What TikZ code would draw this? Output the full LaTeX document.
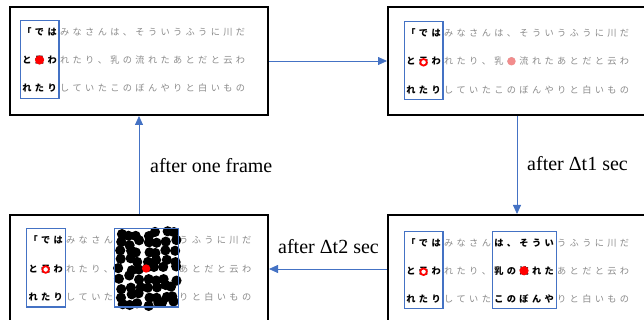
\documentclass[tikz,border=0pt]{standalone}
\usepackage{fontspec}
\setmainfont{Liberation Serif}
\newfontfamily\jp{Noto Sans CJK JP}
\usetikzlibrary{arrows.meta}
\definecolor{ablue}{HTML}{4472C4}
\definecolor{jgray}{HTML}{8A8A8A}
\definecolor{pinkdot}{HTML}{F28C8C}
\tikzset{
 panel/.style={draw=black, line width=2pt, minimum width=258pt, minimum height=108pt, inner sep=0pt},
 jb/.style={font=\jp\bfseries\fontsize{9.2}{9.2}\selectfont, text=black, inner sep=0pt, text height=8.1pt, text depth=1.1pt},
 jg/.style={font=\jp\fontsize{9.2}{9.2}\selectfont, text=jgray, inner sep=0pt, text height=8.1pt, text depth=1.1pt},
 selbox/.style={draw=ablue, line width=1.3pt},
 flow/.style={draw=ablue, line width=0.8pt, -{Triangle[length=9pt,width=8pt]}},
 lbl/.style={font=\fontsize{20}{20}\selectfont, inner sep=0pt, anchor=base west},
 hit/.style={fill=red, draw=none},
 faint/.style={fill=pinkdot, draw=none},
 ring/.style={draw=red, fill=white, line width=1.8pt},
 ink/.style={fill=black, draw=none},
}
\newcommand\jrows{{「,で,は,み,な,さ,ん,は,、,そ,う,い,う,ふ,う,に,川,だ},{と,云,わ,れ,た,り,、,乳,の,流,れ,た,あ,と,だ,と,云,わ},{れ,た,り,し,て,い,た,こ,の,ぼ,ん,や,り,と,白,い,も,の}}
% #1 prefix, #2 x of col 1, #3 y of row 1, #4 row step, #5 mode of cols 8-12 (0 gray, 1 bold, 2 hidden)
\newcommand\jtext[5]{%
 \foreach \rl [count=\rowi] in \jrows {
  \foreach \ch [count=\coli] in \rl {
   \pgfmathsetmacro\xx{#2+(\coli-1)*12.56}
   \pgfmathsetmacro\yy{#3+(\rowi-1)*#4}
   \pgfmathtruncatemacro\kd{(\coli<4) ? 1 : ((and(\coli>7,\coli<13)) ? #5 : 0)}
   \ifcase\kd
     \node[jg] (#1-\rowi-\coli) at (\xx,\yy) {\ch};
   \or
     \node[jb] (#1-\rowi-\coli) at (\xx,\yy) {\ch};
   \or
     \coordinate (#1-\rowi-\coli) at (\xx,\yy);
   \fi
  }
 }
}
\begin{document}
\begin{tikzpicture}[x=1pt,y=-1pt]
\useasboundingbox (0,0) rectangle (644,320);
\clip (0,0) rectangle (644,320);
% panels
\node[panel] (p1) at (139,61) {};
\node[panel] (p2) at (517,61) {};
\node[panel] (p3) at (139,269) {};
\node[panel] (p4) at (517,269) {};
% panel 1
\jtext{a}{27}{31.7}{28.3}{0}
\fill[hit] (a-2-2) circle (4.6pt);
\draw[selbox] (20.5,20.2) rectangle (59.1,98.3);
% panel 2
\jtext{b}{411}{33}{28.3}{0}
\draw[ring] ([yshift=-1pt]b-2-2) circle (3.3pt);
\fill[faint] (b-2-9) circle (4.2pt);
\draw[selbox] (404.5,21.5) rectangle (443.1,99.6);
% panel 3
\jtext{c}{33.1}{240}{28.5}{2}
\draw[ring] ([yshift=-1pt]c-2-2) circle (3.3pt);
\pgfmathsetseed{11}
\foreach \gx in {0,...,6} {
 \foreach \gy in {0,...,8} {
  \pgfmathsetmacro\dx{120+\gx*9+rand*3}
  \pgfmathsetmacro\dy{234+\gy*8.8+rand*3}
  \fill[ink] (\dx,\dy) circle (5.1pt);
 }
}
\fill[hit] (c-2-10) circle (4.2pt);
\draw[selbox] (26.6,228.5) rectangle (65.2,307);
\draw[selbox] (114.5,228.5) rectangle (178.3,307);
% panel 4
\jtext{d}{411}{243}{27.75}{1}
\draw[ring] ([yshift=-1pt]d-2-2) circle (3.3pt);
\fill[hit] (d-2-10) circle (4.6pt);
\draw[selbox] (404.5,231.5) rectangle (443.1,308.5);
\draw[selbox] (492.4,231.5) rectangle (556.2,308.5);
% connectors
\draw[flow] (p1.east) -- (p2.west);
\draw[flow] (p2.south) -- (p4.north);
\draw[flow] (p4.west) -- (p3.east);
\draw[flow] (p3.north) -- (p1.south);
% labels
\node[lbl] (l1) at (527,171) {after Δt1 sec};
\node[lbl] (l2) at (278,253) {after Δt2 sec};
\node[lbl] (l3) at (150,172.5) {after one frame};
\end{tikzpicture}
\end{document}
